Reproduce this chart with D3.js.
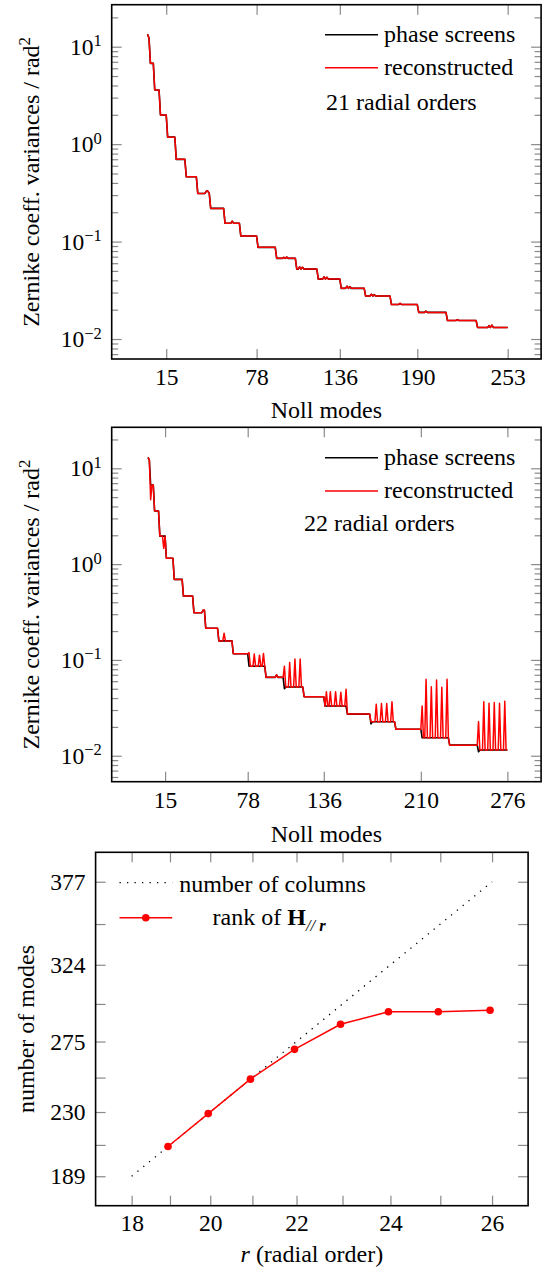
<!DOCTYPE html>
<html><head><meta charset="utf-8">
<script src="https://cdn.jsdelivr.net/npm/d3@7"></script>
<style>
body{margin:0;background:#fff}
svg{display:block}
text{font-family:'Liberation Serif','Times New Roman',serif;}
</style>
</head><body>
<svg id="c" width="552" height="1272"></svg>
<script>
// ---------------- DATA ----------------
// Panel 1: 21 radial orders (Noll modes 2..253)
const orderStart21 = [2,4,7,11,16,22,29,37,46,56,67,79,92,106,121,137,154,172,191,211,232];
const lastMode21 = 253;
const phaseLevels21 = [12.8,6.75,3.59,1.99,1.18,0.698,0.462,0.312,0.219,0.154,0.114,0.0873,0.0673,0.0522,0.0412,0.0331,0.0276,0.0226,0.01875,0.0155,0.01315];
const reconLevels21 = [12.8,6.75,3.59,1.99,1.18,0.698,0.462,0.312,0.219,0.154,0.114,0.0873,0.0673,0.0522,0.0412,0.0331,0.0276,0.0226,0.01875,0.0155,0.01315];
const phaseOverrides21 = [[2,13.4],[3,12.2],[43,0.33],[44,0.33],[61,0.162],[97,0.069],[99,0.0695],[108,0.055],[110,0.0545],
  [125,0.0435],[127,0.043],[141,0.0348],[143,0.0345],[158,0.0288],[160,0.0285],[178,0.0232],[196,0.0193],[218,0.0158],[240,0.0137],[242,0.0139]];
const reconOverrides21 = [[2,13.4],[3,12.2],[43,0.33],[44,0.33],[61,0.162],[97,0.069],[99,0.0695],[108,0.055],[110,0.0545],
  [125,0.0435],[127,0.043],[141,0.0348],[143,0.0345],[158,0.0288],[160,0.0285],[178,0.0232],[196,0.0193],[218,0.0158],[240,0.0137],[242,0.0139]];
const xTicks21 = [15,78,136,190,253];

// Panel 2: 22 radial orders (Noll modes 2..276)
const orderStart22 = [2,4,7,11,16,22,29,37,46,56,67,79,92,106,121,137,154,172,191,211,232,254];
const lastMode22 = 276;
const phaseLevels22 = [12.6,6.7,3.58,1.96,1.15,0.693,0.464,0.311,0.214,0.158,0.116,0.086,0.0658,0.0522,0.0413,0.033,0.0272,0.0226,0.0189,0.0154,0.0129,0.01148];
const reconLevels22 = [12.6,6.7,3.58,1.96,1.15,0.693,0.464,0.311,0.214,0.158,0.116,0.086,0.0658,0.0522,0.0413,0.033,0.0272,0.0226,0.0189,0.0154,0.0129,0.01148];
const phaseOverrides22 = [[2,13.0],[3,12.2],[44,0.33],[45,0.33],[100,0.07],[106,0.05],[172,0.0215],[254,0.011]];
const reconOverrides22 = [[2,13.0],[3,12.2],[4,4.7],[14,1.46],[44,0.332],[45,0.332],[60,0.19],[100,0.07],
  [79,0.119],[83,0.115],[87,0.112],[90,0.117],
  [106,0.086],[110,0.094],[114,0.102],[118,0.102],
  [138,0.0466],[141,0.0466],[145,0.0466],[149,0.046],[153,0.0493],
  [176,0.0345],[180,0.035],[184,0.035],[188,0.0365],
  [211,0.033],[214,0.0627],[218,0.0525],[222,0.0618],[226,0.0518],[230,0.063],
  [254,0.0227],[258,0.0367],[262,0.0352],[266,0.036],[270,0.0352],[274,0.037]];
const xTicks22 = [15,78,136,210,276];

// Panel 3: rank vs radial order
const radialOrders = [18,19,20,21,22,23,24,25,26];
const numColumns = [189,209,230,252,275,299,324,350,377];
const rankOrders = [19,20,21,22,23,24,25,26];
const rankValues = [208,229,251,270,286,294,294,295];

// ---------------- HELPERS ----------------
const FS = 24;     // labels & legend
const TFS = 23.5;  // tick labels
const FONT = "'Liberation Serif','Times New Roman',serif";
const TICK = "#8a8a8a";
const svg = d3.select("#c");

function buildSeries(starts, last, levels, overrides){
  const out = [];
  starts.forEach((s,k)=>{
    const e = k+1 < starts.length ? starts[k+1]-1 : last;
    for(let n=s;n<=e;n++) out.push({n:n, v:levels[k]});
  });
  const m = new Map(overrides);
  out.forEach(p=>{ if(m.has(p.n)) p.v = m.get(p.n); });
  return out;
}

function styleAxis(g){
  g.attr("font-family", FONT).attr("font-size", TFS);
  g.select(".domain").remove();
  g.selectAll(".tick line").attr("stroke", TICK).attr("stroke-width", 1.2);
  g.selectAll(".tick text").attr("fill", "#000");
}

function sup(sel){
  sel.each(function(d){
    const t = d3.select(this);
    const e = Math.round(Math.log10(d));
    t.text(null);
    t.append("tspan").text("10");
    t.append("tspan").attr("font-size", 16.5).attr("dy", -8.5).text(String(e).replace("-", "\u2212"));
  });
}

function logPanel(c){
  const g = svg.append("g");
  const x = d3.scaleLinear().domain(c.xDomain).range([c.L, c.R]);
  const y = d3.scaleLog().domain(c.yDomain).range([c.B, c.T]);
  const majors = [0.01,0.1,1,10];
  const minors = [];
  for(let e=-3;e<=1;e++) for(let m=2;m<=9;m++){ const v=m*Math.pow(10,e); if(v>c.yDomain[0] && v<c.yDomain[1]) minors.push(v); }

  g.append("g").attr("transform",`translate(0,${c.B})`)
    .call(d3.axisBottom(x).tickValues(c.xTicks).tickSizeInner(-10).tickSizeOuter(0).tickPadding(c.xPad).tickFormat(d3.format("d")))
    .call(styleAxis);
  g.append("g").attr("transform",`translate(0,${c.T})`)
    .call(d3.axisTop(x).tickValues(c.xTicks).tickSizeInner(-10).tickSizeOuter(0).tickFormat(""))
    .call(styleAxis);
  const la = g.append("g").attr("transform",`translate(${c.L},0)`)
    .call(d3.axisLeft(y).tickValues(majors).tickSizeInner(-10).tickSizeOuter(0).tickPadding(10))
    .call(styleAxis);
  la.selectAll(".tick text").call(sup);
  g.append("g").attr("transform",`translate(${c.L},0)`)
    .call(d3.axisLeft(y).tickValues(minors).tickSizeInner(-6.5).tickSizeOuter(0).tickFormat(""))
    .call(styleAxis);
  g.append("g").attr("transform",`translate(${c.R},0)`)
    .call(d3.axisRight(y).tickValues(majors).tickSizeInner(-10).tickSizeOuter(0).tickFormat(""))
    .call(styleAxis);
  g.append("g").attr("transform",`translate(${c.R},0)`)
    .call(d3.axisRight(y).tickValues(minors).tickSizeInner(-6.5).tickSizeOuter(0).tickFormat(""))
    .call(styleAxis);

  const line = d3.line().x(d=>x(d.n)).y(d=>y(d.v));
  g.append("path").datum(c.phase).attr("d", line).attr("fill","none").attr("stroke","#000").attr("stroke-width",1.6).attr("stroke-linejoin","round");
  g.append("path").datum(c.recon).attr("d", line).attr("fill","none").attr("stroke","#ff0000").attr("stroke-width",1.5).attr("stroke-linejoin","round");

  g.append("rect").attr("x",c.L).attr("y",c.T).attr("width",c.R-c.L).attr("height",c.B-c.T)
    .attr("fill","none").attr("stroke","#000").attr("stroke-width",1.6);

  // legend
  const lg = c.legend;
  g.append("line").attr("x1",325).attr("x2",378).attr("y1",lg.y1).attr("y2",lg.y1).attr("stroke","#000").attr("stroke-width",1.5);
  g.append("line").attr("x1",325).attr("x2",378).attr("y1",lg.y2).attr("y2",lg.y2).attr("stroke","#ff0000").attr("stroke-width",1.5);
  g.append("text").attr("x",384).attr("y",lg.y1+7).attr("font-size",FS).text("phase screens");
  g.append("text").attr("x",384).attr("y",lg.y2+7.3).attr("font-size",FS).text("reconstructed");
  g.append("text").attr("x",lg.nx).attr("y",lg.ny).attr("font-size",FS).text(lg.note);

  // axis labels
  g.append("text").attr("x",(c.L+c.R)/2).attr("y",c.xLabelY).attr("text-anchor","middle").attr("font-size",FS).text("Noll modes");
  const yl = g.append("text").attr("transform",`translate(38.6,${(c.T+c.B)/2}) rotate(-90)`).attr("text-anchor","middle").attr("font-size",FS);
  yl.append("tspan").text("Zernike coeff. variances / rad");
  yl.append("tspan").attr("font-size",17).attr("dy",-8.5).text("2");
}

logPanel({
  L:111.7, R:541.1, T:4.7, B:359,
  xDomain:[-23,276.3], yDomain:[Math.pow(10,-2.205), Math.pow(10,1.431)],
  xTicks:xTicks21, xPad:9, xLabelY:418,
  phase: buildSeries(orderStart21,lastMode21,phaseLevels21,phaseOverrides21),
  recon: buildSeries(orderStart21,lastMode21,reconLevels21,reconOverrides21),
  legend:{y1:34.7,y2:67.7,nx:326,ny:110,note:"21 radial orders"}
});
logPanel({
  L:111.7, R:541.1, T:427.3, B:781.7,
  xDomain:[-25.7,301.7], yDomain:[Math.pow(10,-2.271), Math.pow(10,1.428)],
  xTicks:xTicks22, xPad:10, xLabelY:842,
  phase: buildSeries(orderStart22,lastMode22,phaseLevels22,phaseOverrides22),
  recon: buildSeries(orderStart22,lastMode22,reconLevels22,reconOverrides22),
  legend:{y1:457.7,y2:491,nx:304,ny:531,note:"22 radial orders"}
});

// ---------------- PANEL 3 ----------------
(function(){
  const L=95.6, R=528.1, T=852.3, B=1205.7;
  const g = svg.append("g");
  const x = d3.scaleLinear().domain([170.2,395.8]).range([L,R]);
  const y = d3.scaleLinear().domain([170.2,395.8]).range([B,T]);
  const xf = d=>{ const i=numColumns.indexOf(d); return i%2===0 ? radialOrders[i] : ""; };
  const yf = d=>{ const i=numColumns.indexOf(d); return i%2===0 ? d : ""; };
  g.append("g").attr("transform",`translate(0,${B})`)
    .call(d3.axisBottom(x).tickValues(numColumns).tickSizeInner(-10).tickSizeOuter(0).tickPadding(9).tickFormat(xf)).call(styleAxis);
  g.append("g").attr("transform",`translate(0,${T})`)
    .call(d3.axisTop(x).tickValues(numColumns).tickSizeInner(-10).tickSizeOuter(0).tickFormat("")).call(styleAxis);
  g.append("g").attr("transform",`translate(${L},0)`)
    .call(d3.axisLeft(y).tickValues(numColumns).tickSizeInner(-10).tickSizeOuter(0).tickPadding(10).tickFormat(yf)).call(styleAxis);
  g.append("g").attr("transform",`translate(${R},0)`)
    .call(d3.axisRight(y).tickValues(numColumns).tickSizeInner(-10).tickSizeOuter(0).tickFormat("")).call(styleAxis);

  const dl = d3.line().x((d,i)=>x(numColumns[i])).y((d,i)=>y(numColumns[i]));
  g.append("path").datum(radialOrders).attr("d",dl).attr("fill","none").attr("stroke","#000")
    .attr("stroke-width",1.3).attr("stroke-dasharray","1.3,6.2");
  const colOf = r => numColumns[radialOrders.indexOf(r)];
  const rl = d3.line().x((d,i)=>x(colOf(rankOrders[i]))-2).y((d,i)=>y(rankValues[i]));
  g.append("path").datum(rankOrders).attr("d",rl).attr("fill","none").attr("stroke","#ff0000").attr("stroke-width",1.5);
  g.selectAll("circle.pt").data(rankOrders).join("circle").attr("class","pt")
    .attr("cx",(d,i)=>x(colOf(d))-2).attr("cy",(d,i)=>y(rankValues[i])).attr("r",3.8).attr("fill","#ff0000");

  g.append("rect").attr("x",L).attr("y",T).attr("width",R-L).attr("height",B-T)
    .attr("fill","none").attr("stroke","#000").attr("stroke-width",1.6);

  // legend
  g.append("line").attr("x1",119.5).attr("x2",172.2).attr("y1",882.7).attr("y2",882.7).attr("stroke","#000").attr("stroke-width",1.3).attr("stroke-dasharray","1.3,6.2");
  g.append("text").attr("x",179.2).attr("y",891.7).attr("font-size",FS).text("number of columns");
  g.append("line").attr("x1",119.5).attr("x2",172.2).attr("y1",917.7).attr("y2",917.7).attr("stroke","#ff0000").attr("stroke-width",1.5);
  g.append("circle").attr("cx",145.8).attr("cy",917.7).attr("r",3.8).attr("fill","#ff0000");
  const rt = g.append("text").attr("x",212.6).attr("y",925).attr("font-size",FS);
  rt.append("tspan").text("rank of ");
  rt.append("tspan").attr("font-weight","bold").text("H");
  rt.append("tspan").attr("font-size",16.5).attr("dy",5.5).attr("font-style","italic").text("//");
  rt.append("tspan").attr("font-size",16.5).attr("font-weight","bold").attr("font-style","italic").text(" r");

  // axis labels
  const xl = g.append("text").attr("x",(L+R)/2).attr("y",1262).attr("text-anchor","middle").attr("font-size",FS);
  xl.append("tspan").attr("font-style","italic").text("r");
  xl.append("tspan").text(" (radial order)");
  g.append("text").attr("transform",`translate(34,${(T+B)/2}) rotate(-90)`).attr("text-anchor","middle").attr("font-size",FS).text("number of modes");
})();
</script>
</body></html>
